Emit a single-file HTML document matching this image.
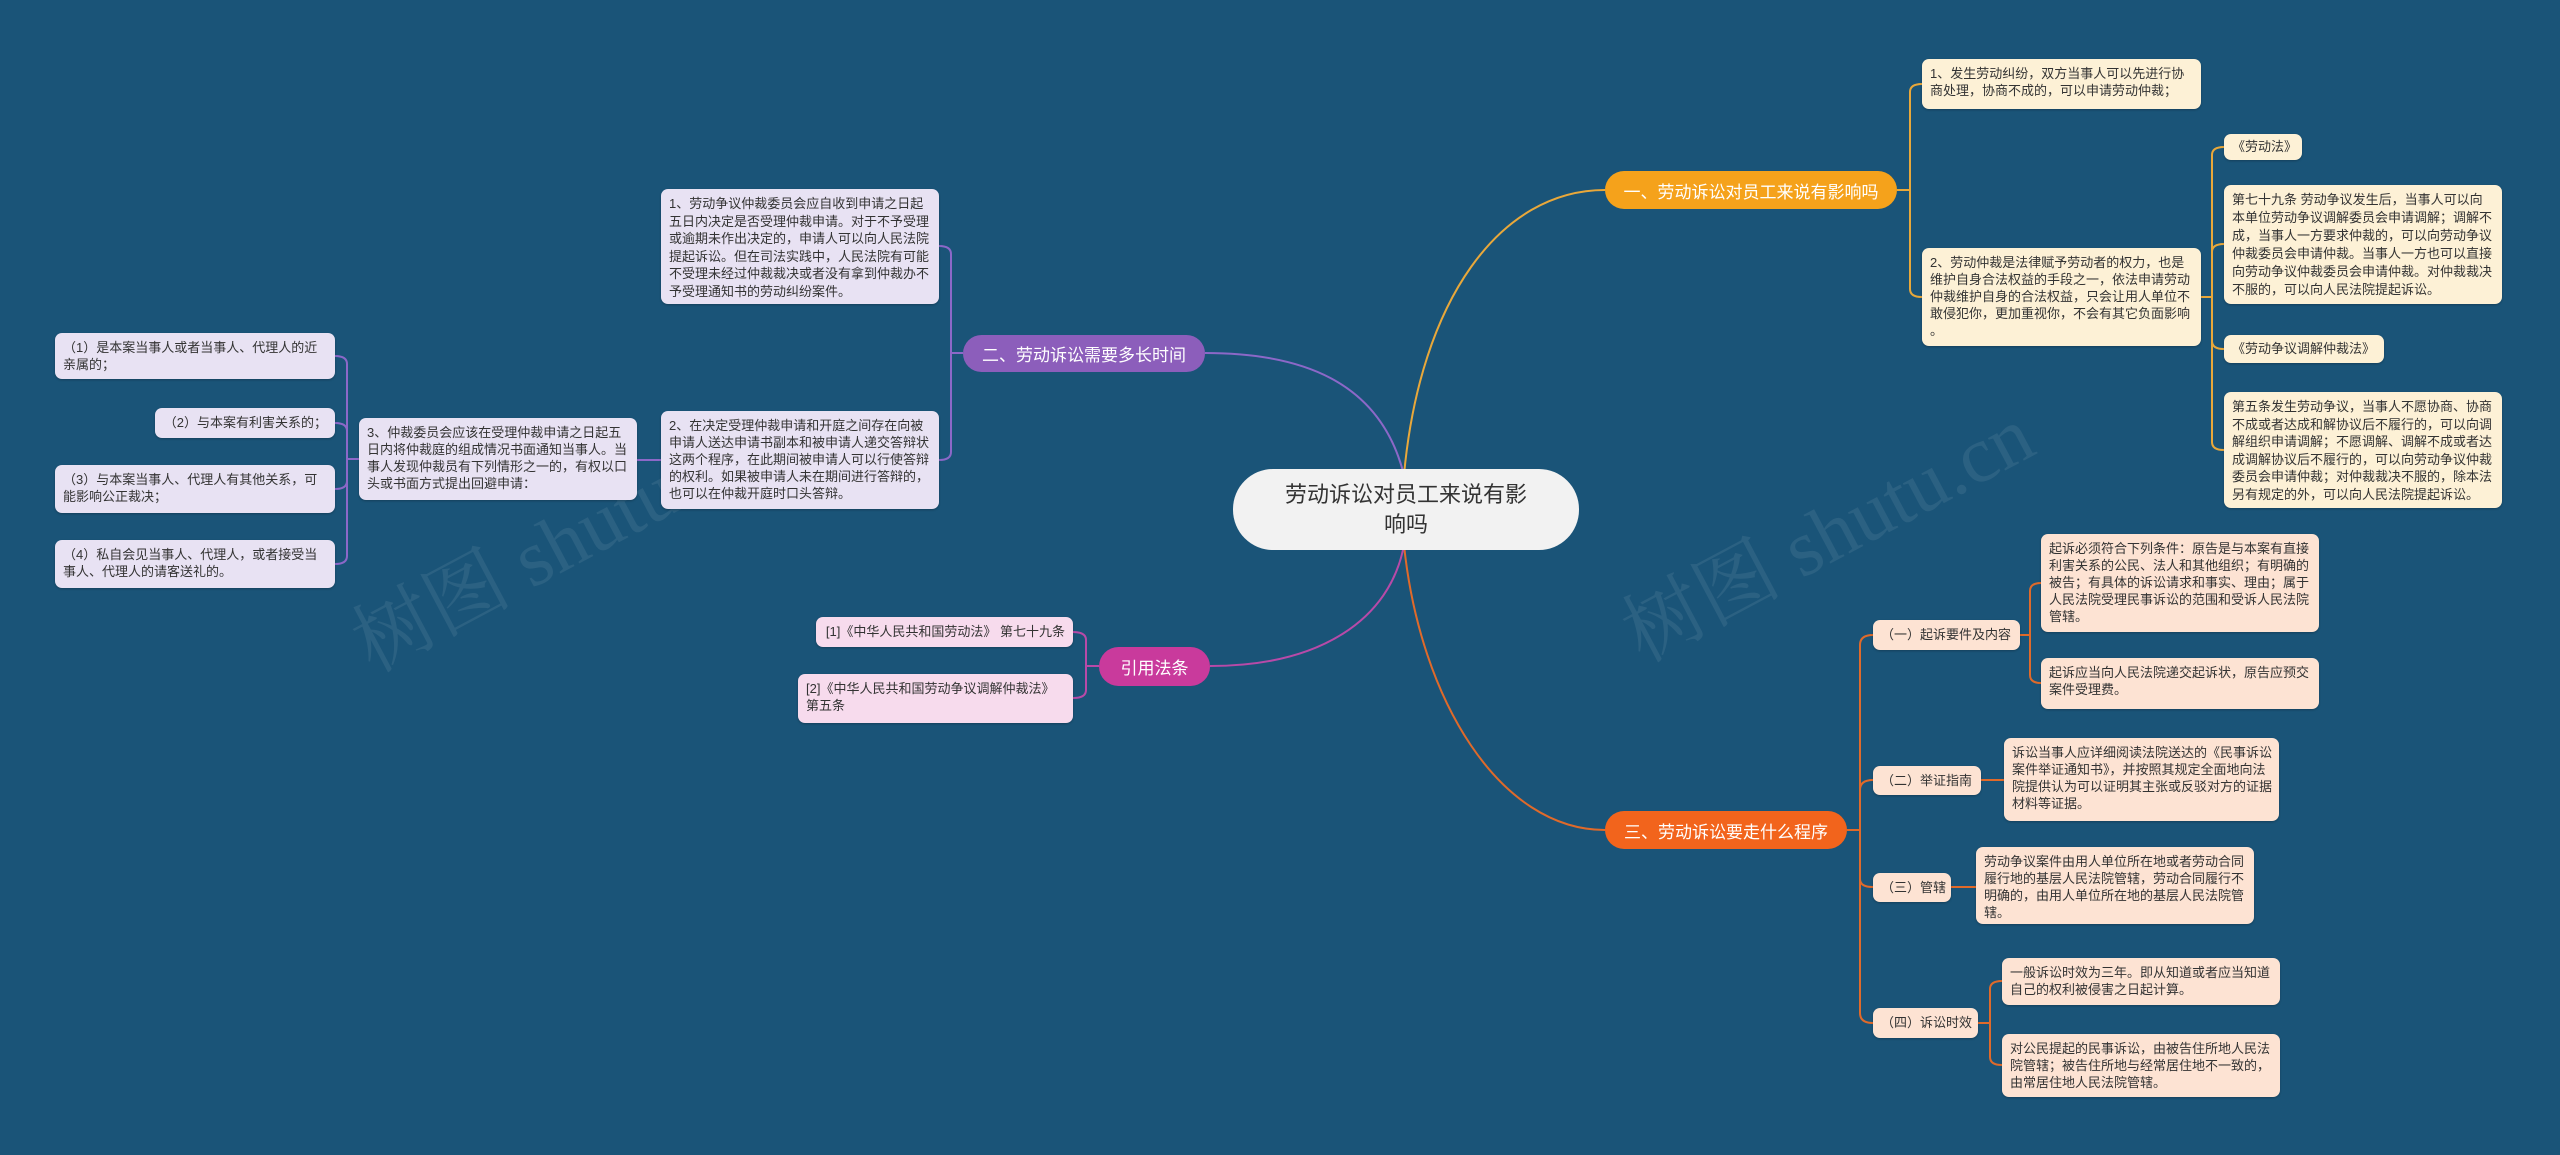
<!DOCTYPE html>
<html><head><meta charset="utf-8"><style>
html,body{margin:0;padding:0}
body{width:2560px;height:1155px;background:#1a5478;position:relative;overflow:hidden;font-family:"Liberation Sans","Noto Sans CJK SC",sans-serif}
.n{position:absolute;box-sizing:border-box;border-radius:7px;font-size:13px;line-height:17px;color:#333;padding:6px 8px;white-space:nowrap;box-shadow:0 1px 2px rgba(0,0,0,.25)}
.c{background:#fdf1d6}.p{background:#fde3d3}.v{background:#e8e2f3}.m{background:#f7dbed}
.pill{position:absolute;box-sizing:border-box;border-radius:20px;color:#fff;font-size:17px;display:flex;align-items:center;justify-content:center;white-space:nowrap}
.wm{position:absolute;font-family:"Liberation Serif","Noto Serif CJK SC",serif;font-size:80px;color:rgba(255,255,255,.08);transform:rotate(-28deg);white-space:nowrap}
</style></head><body>
<div class="wm" style="left:330px;top:480px">树图 shutu.cn</div>
<div class="wm" style="left:1600px;top:470px">树图 shutu.cn</div>
<svg width="2560" height="1155" style="position:absolute;left:0;top:0" fill="none" stroke-width="2">
<g stroke="#e9a83a">
<path d="M1404 475 C1420 300 1500 190 1605 190"/>
<path d="M1897 190 H1910 M1910 190 V92 Q1910 84 1922 84 M1910 190 V289 Q1910 297 1922 297"/>
<path d="M2201 297 H2212 M2212 297 V155 Q2212 147 2224 147 M2212 297 V252 Q2212 244 2224 244 M2212 297 V341 Q2212 349 2224 349 M2212 297 V442 Q2212 450 2224 450"/>
</g>
<g stroke="#e06a2a">
<path d="M1404 545 C1420 700 1500 830 1605 830"/>
<path d="M1847 830 H1860 M1860 830 V645 Q1860 635 1873 635 M1860 830 V790 Q1860 780 1873 780 M1860 830 V879 Q1860 887 1873 887 M1860 830 V1013 Q1860 1023 1873 1023"/>
<path d="M2020 635 H2030 M2030 635 V591 Q2030 583 2041 583 M2030 635 V675 Q2030 683 2041 683"/>
<path d="M1981 780 H2004 M1951 887 H1976"/>
<path d="M1978 1023 H1990 M1990 1023 V989 Q1990 981 2002 981 M1990 1023 V1057 Q1990 1065 2002 1065"/>
</g>
<g stroke="#8c68c8">
<path d="M1404 475 C1380 380 1300 353 1205 353"/>
<path d="M963 353 H951 M951 353 V254 Q951 246 939 246 M951 353 V452 Q951 460 939 460"/>
<path d="M661 460 H637"/>
<path d="M359 459 H347 M347 459 V364 Q347 356 335 356 M347 459 V431 Q347 423 335 423 M347 459 V481 Q347 489 335 489 M347 459 V556 Q347 564 335 564"/>
</g>
<g stroke="#b84aa8">
<path d="M1404 545 C1390 620 1320 666 1210 666"/>
<path d="M1099 666 H1086 M1086 666 V640 Q1086 632 1073 632 M1086 666 V690 Q1086 698 1073 698"/>
</g>
</svg>

<div class="pill" style="left:1233px;top:469px;width:346px;height:81px;background:#f2f2f2;color:#333;font-size:22px;line-height:30px;border-radius:40px;text-align:center">劳动诉讼对员工来说有影<br>响吗</div>

<div class="pill" style="left:1605px;top:171px;width:292px;height:38px;background:#f5a21b">一、劳动诉讼对员工来说有影响吗</div>
<div class="pill" style="left:963px;top:335px;width:242px;height:37px;background:#8c5ebb">二、劳动诉讼需要多长时间</div>
<div class="pill" style="left:1605px;top:811px;width:242px;height:38px;background:#f2641c">三、劳动诉讼要走什么程序</div>
<div class="pill" style="left:1099px;top:647px;width:111px;height:39px;background:#c93a9c">引用法条</div>

<div class="n c" style="left:1922px;top:59px;width:279px;height:50px">1、发生劳动纠纷，双方当事人可以先进行协<br>商处理，协商不成的，可以申请劳动仲裁；</div>
<div class="n c" style="left:1922px;top:248px;width:279px;height:98px">2、劳动仲裁是法律赋予劳动者的权力，也是<br>维护自身合法权益的手段之一，依法申请劳动<br>仲裁维护自身的合法权益，只会让用人单位不<br>敢侵犯你，更加重视你，不会有其它负面影响<br>。</div>
<div class="n c" style="left:2224px;top:134px;width:78px;height:26px;padding-top:4px">《劳动法》</div>
<div class="n c" style="left:2224px;top:185px;width:278px;height:119px;line-height:18px">第七十九条 劳动争议发生后，当事人可以向<br>本单位劳动争议调解委员会申请调解；调解不<br>成，当事人一方要求仲裁的，可以向劳动争议<br>仲裁委员会申请仲裁。当事人一方也可以直接<br>向劳动争议仲裁委员会申请仲裁。对仲裁裁决<br>不服的，可以向人民法院提起诉讼。</div>
<div class="n c" style="left:2224px;top:335px;width:160px;height:28px;padding-top:5px">《劳动争议调解仲裁法》</div>
<div class="n c" style="left:2224px;top:392px;width:278px;height:116px;line-height:17.5px">第五条发生劳动争议，当事人不愿协商、协商<br>不成或者达成和解协议后不履行的，可以向调<br>解组织申请调解；不愿调解、调解不成或者达<br>成调解协议后不履行的，可以向劳动争议仲裁<br>委员会申请仲裁；对仲裁裁决不服的，除本法<br>另有规定的外，可以向人民法院提起诉讼。</div>

<div class="n p" style="left:1873px;top:620px;width:147px;height:30px;padding-top:6px">（一）起诉要件及内容</div>
<div class="n p" style="left:2041px;top:534px;width:278px;height:98px">起诉必须符合下列条件：原告是与本案有直接<br>利害关系的公民、法人和其他组织；有明确的<br>被告；有具体的诉讼请求和事实、理由；属于<br>人民法院受理民事诉讼的范围和受诉人民法院<br>管辖。</div>
<div class="n p" style="left:2041px;top:658px;width:278px;height:51px">起诉应当向人民法院递交起诉状，原告应预交<br>案件受理费。</div>
<div class="n p" style="left:1873px;top:766px;width:108px;height:29px;padding-top:6px">（二）举证指南</div>
<div class="n p" style="left:2004px;top:738px;width:275px;height:83px">诉讼当事人应详细阅读法院送达的《民事诉讼<br>案件举证通知书》，并按照其规定全面地向法<br>院提供认为可以证明其主张或反驳对方的证据<br>材料等证据。</div>
<div class="n p" style="left:1873px;top:873px;width:78px;height:29px;padding-top:6px">（三）管辖</div>
<div class="n p" style="left:1976px;top:847px;width:278px;height:77px">劳动争议案件由用人单位所在地或者劳动合同<br>履行地的基层人民法院管辖，劳动合同履行不<br>明确的，由用人单位所在地的基层人民法院管<br>辖。</div>
<div class="n p" style="left:1873px;top:1008px;width:105px;height:30px;padding-top:6px">（四）诉讼时效</div>
<div class="n p" style="left:2002px;top:958px;width:278px;height:47px">一般诉讼时效为三年。即从知道或者应当知道<br>自己的权利被侵害之日起计算。</div>
<div class="n p" style="left:2002px;top:1034px;width:278px;height:63px">对公民提起的民事诉讼，由被告住所地人民法<br>院管辖；被告住所地与经常居住地不一致的，<br>由常居住地人民法院管辖。</div>

<div class="n v" style="left:661px;top:189px;width:278px;height:115px;line-height:17.5px">1、劳动争议仲裁委员会应自收到申请之日起<br>五日内决定是否受理仲裁申请。对于不予受理<br>或逾期未作出决定的，申请人可以向人民法院<br>提起诉讼。但在司法实践中，人民法院有可能<br>不受理未经过仲裁裁决或者没有拿到仲裁办不<br>予受理通知书的劳动纠纷案件。</div>
<div class="n v" style="left:661px;top:411px;width:278px;height:98px">2、在决定受理仲裁申请和开庭之间存在向被<br>申请人送达申请书副本和被申请人递交答辩状<br>这两个程序，在此期间被申请人可以行使答辩<br>的权利。如果被申请人未在期间进行答辩的，<br>也可以在仲裁开庭时口头答辩。</div>
<div class="n v" style="left:359px;top:418px;width:278px;height:82px">3、仲裁委员会应该在受理仲裁申请之日起五<br>日内将仲裁庭的组成情况书面通知当事人。当<br>事人发现仲裁员有下列情形之一的，有权以口<br>头或书面方式提出回避申请：</div>
<div class="n v" style="left:55px;top:333px;width:280px;height:46px">（1）是本案当事人或者当事人、代理人的近<br>亲属的；</div>
<div class="n v" style="left:155px;top:408px;width:180px;height:30px;padding-top:6px;text-align:right">（2）与本案有利害关系的；</div>
<div class="n v" style="left:55px;top:465px;width:280px;height:48px">（3）与本案当事人、代理人有其他关系，可<br>能影响公正裁决；</div>
<div class="n v" style="left:55px;top:540px;width:280px;height:48px">（4）私自会见当事人、代理人，或者接受当<br>事人、代理人的请客送礼的。</div>

<div class="n m" style="left:816px;top:617px;width:257px;height:30px;padding-top:6px;text-align:right">[1]《中华人民共和国劳动法》 第七十九条</div>
<div class="n m" style="left:798px;top:674px;width:275px;height:49px">[2]《中华人民共和国劳动争议调解仲裁法》<br>第五条</div>
</body></html>
